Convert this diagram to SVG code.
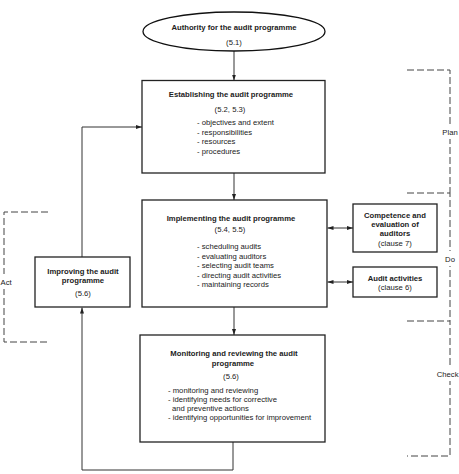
<svg xmlns="http://www.w3.org/2000/svg" width="459" height="474" viewBox="0 0 459 474">
<defs>
<marker id="ah" markerWidth="6" markerHeight="4" refX="6" refY="2" orient="auto-start-reverse" markerUnits="userSpaceOnUse">
<path d="M0,0 L6,2 L0,4 Z" fill="#222"/>
</marker>
<style>
.box{fill:#fff;stroke:#222;stroke-width:1.3}
.t{font-family:"Liberation Sans",Arial,sans-serif;font-size:7.7px;fill:#222}
.b{font-weight:bold}
.c{text-anchor:middle}
.ln{fill:none;stroke:#333;stroke-width:1}
.dash{fill:none;stroke:#444;stroke-width:1;stroke-dasharray:7,3}
.bg{fill:#fff;stroke:none}
</style>
</defs>
<g id="connectors">
<line class="ln" x1="234" y1="51" x2="234" y2="80.5" marker-end="url(#ah)"/>
<line class="ln" x1="234" y1="173" x2="234" y2="200" marker-end="url(#ah)"/>
<line class="ln" x1="234" y1="307" x2="234" y2="335" marker-end="url(#ah)"/>
<polyline class="ln" points="233,442 233,470 82,470 82,307.5" marker-end="url(#ah)"/>
<polyline class="ln" points="82,257 82,127 142,127" marker-end="url(#ah)"/>
<line class="ln" x1="327.5" y1="228" x2="353" y2="228" marker-start="url(#ah)" marker-end="url(#ah)"/>
<line class="ln" x1="327.5" y1="282" x2="353" y2="282" marker-start="url(#ah)" marker-end="url(#ah)"/>
</g>
<g id="phases">
<polyline class="dash" points="407,70 450,70 450,193"/>
<polyline class="dash" points="407,193 450,193 450,321"/>
<polyline class="dash" points="407,321 450,321 450,456 407,456"/>
<polyline class="dash" points="48,212 4,212 4,342 48,342"/>
<rect class="bg" x="438" y="124" width="21" height="15"/>
<text class="t c" x="450" y="135">Plan</text>
<rect class="bg" x="440" y="251" width="20" height="15"/>
<text class="t c" x="450" y="262">Do</text>
<rect class="bg" x="436" y="366" width="23" height="15"/>
<text class="t" x="458.5" y="377" text-anchor="end">Check</text>
<rect class="bg" x="0" y="274" width="12" height="15"/>
<text class="t" x="0.5" y="285">Act</text>
</g>
<g id="authority">
<ellipse cx="234" cy="31.5" rx="91" ry="19.5" fill="#fff" stroke="#111" stroke-width="1.3"/>
<text class="t b c" x="234" y="30">Authority for the audit programme</text>
<text class="t c" x="234" y="45">(5.1)</text>
</g>
<g id="establishing">
<rect class="box" x="142" y="80.5" width="183" height="92.5"/>
<text class="t b c" x="231" y="97">Establishing the audit programme</text>
<text class="t c" x="230" y="112">(5.2, 5.3)</text>
<text class="t" x="197" y="125">- objectives and extent</text>
<text class="t" x="197" y="134.5">- responsibilities</text>
<text class="t" x="197" y="144">- resources</text>
<text class="t" x="197" y="153.5">- procedures</text>
</g>
<g id="implementing">
<rect class="box" x="142" y="200" width="185" height="107"/>
<text class="t b c" x="231" y="221">Implementing the audit programme</text>
<text class="t c" x="230" y="232">(5.4, 5.5)</text>
<text class="t" x="197" y="249">- scheduling audits</text>
<text class="t" x="197" y="258.5">- evaluating auditors</text>
<text class="t" x="197" y="268">- selecting audit teams</text>
<text class="t" x="197" y="277.5">- directing audit activities</text>
<text class="t" x="197" y="287">- maintaining records</text>
</g>
<g id="competence">
<rect class="box" x="353" y="204" width="84" height="48"/>
<text class="t b c" x="395" y="218">Competence and</text>
<text class="t b c" x="395" y="227">evaluation of</text>
<text class="t b c" x="395" y="236">auditors</text>
<text class="t c" x="395" y="246">(clause 7)</text>
</g>
<g id="audit-activities">
<rect class="box" x="353" y="267" width="84" height="30"/>
<text class="t b c" x="395" y="281">Audit activities</text>
<text class="t c" x="395" y="290">(clause 6)</text>
</g>
<g id="improving">
<rect class="box" x="35" y="257" width="95" height="50"/>
<text class="t b c" x="83" y="274">Improving the audit</text>
<text class="t b c" x="83" y="283">programme</text>
<text class="t c" x="83" y="296">(5.6)</text>
</g>
<g id="monitoring">
<rect class="box" x="140" y="335" width="185" height="107"/>
<text class="t b c" x="234" y="356">Monitoring and reviewing the audit</text>
<text class="t b c" x="233" y="366">programme</text>
<text class="t c" x="231" y="379">(5.6)</text>
<text class="t" x="168" y="393">- monitoring and reviewing</text>
<text class="t" x="168" y="402">- identifying needs for corrective</text>
<text class="t" x="172" y="410.5">and preventive actions</text>
<text class="t" x="168" y="420">- identifying opportunities for improvement</text>
</g>
</svg>
